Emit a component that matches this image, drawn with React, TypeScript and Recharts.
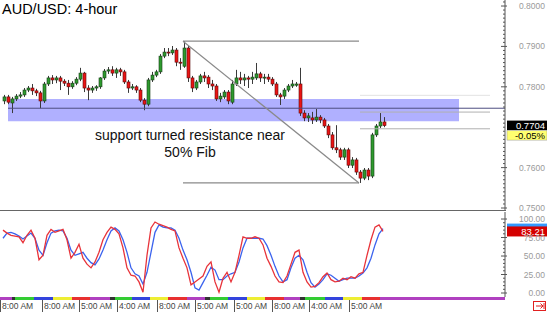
import { ComposedChart, Bar, Line, XAxis, YAxis, ReferenceLine, ReferenceArea } from "recharts";

// AUD/USD 4-hour candles
const opens = [
  0.7765, 0.7775, 0.776, 0.777, 0.7777, 0.778, 0.7792, 0.7797, 0.779, 0.7785, 0.7765, 0.7807,
  0.7822, 0.7817, 0.7822, 0.7814, 0.7809, 0.78, 0.7809, 0.7819, 0.7834, 0.7797, 0.7792, 0.7797,
  0.78, 0.7822, 0.7839, 0.7842, 0.7834, 0.7842, 0.7837, 0.7812, 0.7797, 0.78, 0.7792, 0.7767,
  0.7757, 0.7817, 0.7829, 0.7837, 0.7876, 0.7886, 0.7884, 0.7891, 0.7861, 0.7851, 0.7896, 0.7822,
  0.7797, 0.7812, 0.7827, 0.7824, 0.7807, 0.7802, 0.777, 0.7775, 0.7787, 0.7762, 0.7807, 0.7822,
  0.7817, 0.7822, 0.7819, 0.7822, 0.7832, 0.7822, 0.7824, 0.7819, 0.7807, 0.778, 0.7777, 0.7792,
  0.7802, 0.7804, 0.7807, 0.7735, 0.7723, 0.7723, 0.7718, 0.7725, 0.7718, 0.7703, 0.7681, 0.7649,
  0.7644, 0.7626, 0.7644, 0.7606, 0.7619, 0.7589, 0.7574, 0.7594, 0.7579, 0.7681, 0.7703, 0.7713,
];
const highs = [
  0.778, 0.778, 0.7775, 0.7782, 0.7787, 0.7797, 0.7802, 0.7807, 0.7795, 0.779, 0.7812, 0.7827,
  0.7829, 0.7827, 0.7827, 0.7819, 0.7817, 0.7814, 0.7824, 0.7847, 0.7837, 0.7804, 0.7802, 0.7804,
  0.7824, 0.7844, 0.7849, 0.7851, 0.7847, 0.7847, 0.7842, 0.7817, 0.7807, 0.7804, 0.7797, 0.7772,
  0.7822, 0.7837, 0.7842, 0.7881, 0.7896, 0.7896, 0.7901, 0.7896, 0.7871, 0.7913, 0.7901, 0.7827,
  0.7817, 0.7832, 0.7837, 0.7829, 0.7817, 0.7807, 0.7785, 0.7792, 0.7792, 0.7817, 0.7842, 0.7837,
  0.7832, 0.7827, 0.7837, 0.7859, 0.7837, 0.7832, 0.7832, 0.7824, 0.7812, 0.7785, 0.7797, 0.7807,
  0.7817, 0.7812, 0.7847, 0.7742, 0.7735, 0.7738, 0.7745, 0.773, 0.7723, 0.7708, 0.7688, 0.7705,
  0.7649, 0.7649, 0.7649, 0.7626, 0.7624, 0.7594, 0.7599, 0.7599, 0.7686, 0.7708, 0.7735, 0.7725,
];
const lows = [
  0.7757, 0.7757, 0.7735, 0.7765, 0.7772, 0.7775, 0.7787, 0.778, 0.7777, 0.7747, 0.776, 0.7802,
  0.7807, 0.7809, 0.7792, 0.7802, 0.778, 0.7795, 0.7804, 0.7814, 0.7787, 0.7767, 0.7785, 0.779,
  0.7795, 0.7817, 0.7832, 0.7827, 0.7822, 0.7827, 0.7807, 0.7785, 0.7792, 0.7785, 0.7762, 0.7742,
  0.7752, 0.7812, 0.7824, 0.7832, 0.7871, 0.7876, 0.7879, 0.7851, 0.7842, 0.7847, 0.7812, 0.7787,
  0.7792, 0.7807, 0.7812, 0.7797, 0.7792, 0.7765, 0.7762, 0.777, 0.7757, 0.7757, 0.7802, 0.7807,
  0.7802, 0.7797, 0.7807, 0.7817, 0.7812, 0.7807, 0.7812, 0.7802, 0.7775, 0.7755, 0.777, 0.7787,
  0.7797, 0.78, 0.7728, 0.7715, 0.7713, 0.7708, 0.7713, 0.771, 0.7698, 0.7673, 0.7644, 0.7636,
  0.7619, 0.7619, 0.7599, 0.7599, 0.7582, 0.7562, 0.7569, 0.7569, 0.7574, 0.7676, 0.7698, 0.77,
];
const closes = [
  0.7775, 0.7762, 0.777, 0.7777, 0.778, 0.7792, 0.7797, 0.779, 0.7785, 0.7765, 0.7807, 0.7822,
  0.7817, 0.7822, 0.7814, 0.7809, 0.78, 0.7809, 0.7819, 0.7834, 0.7797, 0.7792, 0.7797, 0.78,
  0.7822, 0.7839, 0.7842, 0.7834, 0.7842, 0.7837, 0.7812, 0.7797, 0.78, 0.7792, 0.7767, 0.7757,
  0.7817, 0.7829, 0.7837, 0.7876, 0.7886, 0.7884, 0.7891, 0.7861, 0.7859, 0.7896, 0.7822, 0.7797,
  0.7812, 0.7827, 0.7822, 0.7807, 0.7802, 0.777, 0.7777, 0.7787, 0.7765, 0.7807, 0.7822, 0.7817,
  0.7822, 0.7819, 0.7824, 0.7832, 0.7822, 0.7824, 0.7819, 0.7807, 0.778, 0.7775, 0.7792, 0.7802,
  0.7807, 0.7807, 0.7735, 0.7723, 0.7728, 0.7718, 0.7725, 0.7718, 0.7703, 0.7681, 0.7649, 0.7644,
  0.7626, 0.7644, 0.7606, 0.7619, 0.7589, 0.7574, 0.7594, 0.7579, 0.7681, 0.7703, 0.7713, 0.7704,
];

// stochastic: %K (red) and %D (blue)
const stochK = [
  85, 81, 78, 77, 76, 68, 78, 85, 74, 45, 51, 78, 86, 82, 84, 86, 72, 47, 55, 66, 47, 39, 34, 42,
  55, 72, 82, 89, 86, 80, 61, 34, 24, 23, 15, 1, 51, 88, 96, 93, 91, 89, 86, 84, 61, 47, 34, 11,
  15, 19, 23, 36, 42, 15, 1, 20, 28, 15, 28, 51, 76, 74, 74, 76, 74, 65, 47, 36, 23, 15, 14, 23,
  39, 55, 58, 28, 15, 8, 9, 14, 22, 27, 18, 15, 16, 20, 18, 22, 20, 26, 28, 51, 72, 89, 92, 83.21,
];
const stochD = [
  74, 81, 82, 80, 77, 73, 77, 81, 74, 58, 51, 68, 81, 84, 85, 84, 74, 58, 51, 53, 55, 47, 41, 38,
  46, 58, 72, 84, 88, 84, 72, 55, 34, 26, 23, 12, 28, 55, 82, 92, 89, 88, 88, 85, 74, 58, 45, 28,
  7, 4, 14, 24, 35, 31, 18, 18, 23, 26, 28, 42, 61, 74, 74, 74, 74, 73, 64, 51, 36, 23, 15, 18,
  34, 47, 51, 45, 28, 14, 8, 12, 18, 26, 24, 20, 16, 18, 20, 20, 20, 23, 27, 34, 47, 65, 80, 87.08,
];

// 0.7700 sits under the last-price box, so it gets no label
const priceLabelTicks = [0.75, 0.76, 0.78, 0.79, 0.8];
const stochLabelTicks = [0, 25, 50, 75, 100];
const timeTickPos = [-0.75, 9.75, 19, 28.5, 38.5, 48, 57.75, 67.25, 76.5, 86.5];
const timeTickLabels = ["8:00 AM", "8:00 AM", "5:00 AM", "4:00 AM", "8:00 AM", "5:00 AM", "5:00 AM", "8:00 AM", "4:00 AM", "5:00 AM"];

// fib drawn from the swing high to the swing low
const fibHigh = { i: 45, price: 0.7913 };
const fibLow = { i: 89, price: 0.7562 };
const zone = { from: 1.25, to: 114, top: 0.777, bottom: 0.7715, mid: 0.7747 };
const dayChange = "-0.05%";

const X_DOMAIN: [number, number] = [-0.75, 125.5];
const AXIS_W = 42;
const FONT = "'Liberation Sans', Arial, sans-serif";

const candles = opens.map((o, i) => ({ i, open: o, high: highs[i], low: lows[i], close: closes[i] }));
const stochRows = stochK.map((k, i) => ({ i, k, d: stochD[i] }));

const priceTicks = Array.from({ length: 52 }, (_, n) => +(0.75 + n * 0.001).toFixed(3));
const stochTicks = Array.from({ length: 21 }, (_, n) => n * 5);

const stripColors = [
  [12, "#b040c0"], [3, "#333"], [19, "#33cc33"], [19, "#3344dd"], [19, "#eeee33"], [18, "#e83030"],
  [20, "#b040c0"], [5, "#333"], [17, "#33cc33"], [18, "#3344dd"], [18, "#eeee33"], [19, "#e83030"],
  [18, "#b040c0"], [5, "#333"], [18, "#33cc33"], [19, "#3344dd"], [18, "#eeee33"], [19, "#e83030"],
  [16, "#b040c0"], [5, "#333"], [20, "#33cc33"], [18, "#3344dd"], [19, "#eeee33"], [18, "#e83030"],
  [125, "#b040c0"],
] as [number, string][];

function Candle(props: any) {
  const { x, y, width, height, payload } = props;
  if (!payload) return null;
  const top = Math.min(y, y + height);
  const bot = Math.max(y, y + height);
  const k = (bot - top) / (payload.high - payload.low || 1);
  const cx = Math.round(x + width / 2) + 0.5;
  const yo = top + (payload.high - payload.open) * k;
  const yc = top + (payload.high - payload.close) * k;
  const up = payload.close >= payload.open;
  const bTop = Math.min(yo, yc);
  const bH = Math.max(1, Math.abs(yo - yc));
  return (
    <g>
      <line x1={cx} x2={cx} y1={top} y2={bot} stroke="#3a3a3a" strokeWidth={1} />
      <rect
        x={cx - 1.5}
        y={bTop}
        width={3}
        height={bH}
        fill={up ? "#2e9a2e" : "#ea1414"}
        stroke={up ? "#173d17" : "#5c0a0a"}
        strokeWidth={0.6}
      />
    </g>
  );
}

function makeAxisTick(labels: number[], digits: number) {
  return (props: any) => {
    const { x, y, payload } = props;
    const v = payload.value;
    const major = labels.some((l) => Math.abs(l - v) < 1e-7);
    return (
      <g>
        <line x1={x - (major ? 4 : 2)} x2={x + (major ? 2 : 0)} y1={y} y2={y} stroke="#555" />
        {major && (
          <text x={x + 40} y={y + 3} textAnchor="end" fontSize={8.5} fill="#9a9a9a" fontFamily={FONT}>
            {v.toFixed(digits)}
          </text>
        )}
      </g>
    );
  };
}

function TimeTick(props: any) {
  const { x, y, payload } = props;
  const idx = timeTickPos.indexOf(payload.value);
  return (
    <g>
      <line x1={x + 0.5} x2={x + 0.5} y1={y + 3} y2={y + 15} stroke="#555" />
      <text x={x + 2} y={y + 12} fontSize={8.5} fill="#444" fontFamily={FONT}>
        {timeTickLabels[idx]}
      </text>
    </g>
  );
}

function valueBox(text: string, fill: string, color: string) {
  return (p: any) => {
    const vb = p.viewBox || {};
    const right = (vb.x || 0) + (vb.width || 0);
    const y = vb.y || 0;
    return (
      <g>
        <rect x={right + 2} y={y - 5} width={40} height={10} fill={fill} />
        {text && (
          <text x={right + 40} y={y + 3.5} textAnchor="end" fontSize={9.5} fill={color} fontFamily={FONT}>
            {text}
          </text>
        )}
      </g>
    );
  };
}

function priceBox(p: any) {
  const vb = p.viewBox || {};
  const right = (vb.x || 0) + (vb.width || 0);
  const y = vb.y || 0;
  return (
    <g>
      <rect x={right + 2} y={y - 5} width={40} height={9.5} fill="#000" />
      <text x={right + 40} y={y + 3.5} textAnchor="end" fontSize={9.5} fill="#fff" fontFamily={FONT}>
        {closes[closes.length - 1].toFixed(4)}
      </text>
      <rect x={right + 2} y={y + 5} width={40} height={9.5} fill="#ffff70" stroke="#999" strokeWidth={0.5} />
      <text x={right + 40} y={y + 13.5} textAnchor="end" fontSize={9.5} fill="#000" fontFamily={FONT}>
        {dayChange}
      </text>
    </g>
  );
}

export default function App() {
  const lastK = stochK[stochK.length - 1];
  const lastD = stochD[stochD.length - 1];
  return (
    <div style={{ position: "absolute", left: 0, top: 0, width: 547, height: 312, background: "#fff", overflow: "hidden", fontFamily: FONT }}>
      <div style={{ position: "absolute", left: 0, top: 0 }}>
        <ComposedChart width={547} height={216} data={candles} margin={{ top: 0, right: 0, bottom: 5, left: 0 }}>
          <XAxis type="number" dataKey="i" domain={X_DOMAIN} hide />
          <YAxis
            orientation="right"
            width={AXIS_W}
            domain={[0.74926, 0.80149]}
            ticks={priceTicks}
            interval={0}
            tickSize={0}
            tickMargin={0}
            tickLine={false}
            axisLine={{ stroke: "#555" }}
            tick={makeAxisTick(priceLabelTicks, 4)}
          />
          <Bar
            dataKey={(d: any) => [d.low, d.high]}
            barSize={3}
            shape={<Candle />}
            isAnimationActive={false}
          />
          <ReferenceArea
            x1={zone.from}
            x2={zone.to}
            y1={zone.bottom}
            y2={zone.top}
            fill="#5a5aff"
            fillOpacity={0.48}
            stroke="none"
          />
          <ReferenceLine
            segment={[{ x: zone.from, y: zone.mid }, { x: X_DOMAIN[1], y: zone.mid }]}
            stroke="#4d4d80"
            strokeWidth={1}
          />
          <ReferenceLine
            segment={[{ x: fibHigh.i, y: fibHigh.price }, { x: fibLow.i, y: fibHigh.price }]}
            stroke="#8a8a8a"
            strokeWidth={1.2}
          />
          <ReferenceLine
            segment={[{ x: fibHigh.i, y: fibLow.price }, { x: fibLow.i, y: fibLow.price }]}
            stroke="#8a8a8a"
            strokeWidth={1.2}
          />
          <ReferenceLine
            segment={[{ x: fibHigh.i, y: fibHigh.price }, { x: fibLow.i, y: fibLow.price }]}
            stroke="#8a8a8a"
            strokeWidth={1.2}
          />
          {[0.618, 0.5, 0.382].map((lvl) => {
            const p = fibLow.price + (fibHigh.price - fibLow.price) * lvl;
            return (
              <ReferenceLine
                key={lvl}
                segment={[{ x: fibLow.i + 0.25, y: p }, { x: 121.75, y: p }]}
                stroke={lvl === 0.618 ? "#e2e2e2" : "#b0b0b0"}
                strokeWidth={1}
              />
            );
          })}
          <ReferenceLine y={closes[closes.length - 1]} stroke="none" label={priceBox} />
        </ComposedChart>
      </div>
      <div style={{ position: "absolute", left: 0, top: 210, width: 506, height: 1, background: "#666" }} />
      <div style={{ position: "absolute", left: 0, top: 212 }}>
        <ComposedChart width={547} height={100} data={stochRows} margin={{ top: 0, right: 0, bottom: 0, left: 0 }}>
          <XAxis
            type="number"
            dataKey="i"
            domain={X_DOMAIN}
            ticks={timeTickPos}
            interval={0}
            height={15}
            tickSize={0}
            tickMargin={0}
            tickLine={false}
            axisLine={false}
            tick={<TimeTick />}
          />
          <YAxis
            orientation="right"
            width={AXIS_W}
            domain={[-5.4, 109.5]}
            ticks={stochTicks}
            interval={0}
            tickSize={0}
            tickMargin={0}
            tickLine={false}
            axisLine={{ stroke: "#555" }}
            tick={makeAxisTick(stochLabelTicks, 2)}
          />
          <Line dataKey="d" stroke="#3b63ee" strokeWidth={1.3} dot={false} isAnimationActive={false} />
          <Line dataKey="k" stroke="#e8333a" strokeWidth={1.3} dot={false} isAnimationActive={false} />
          <ReferenceLine y={lastD} stroke="none" label={valueBox("", "#3399ff", "#fff")} />
          <ReferenceLine y={lastK} stroke="none" label={valueBox(lastK.toFixed(2), "#d40000", "#fff")} />
        </ComposedChart>
      </div>
      <div style={{ position: "absolute", left: 0, top: 297, height: 3, display: "flex" }}>
        {stripColors.map(([w, c], n) => (
          <div key={n} style={{ width: w, height: 3, background: c }} />
        ))}
      </div>
      <svg width={547} height={312} style={{ position: "absolute", left: 0, top: 0, pointerEvents: "none" }}>
        <text x={2} y={13.5} fontSize={14.5} fill="#000" fontFamily={FONT}>AUD/USD: 4-hour</text>
        <text x={190} y={140} fontSize={14} fill="#111" textAnchor="middle" fontFamily={FONT}>
          support turned resistance near
        </text>
        <text x={190} y={157} fontSize={14} fill="#111" textAnchor="middle" fontFamily={FONT}>
          50% Fib
        </text>
        <rect x={533.5} y={301.5} width={12} height={9} fill="#fff" stroke="#e02020" strokeWidth={1} />
        <path d="M536 306 H543 M540.5 303.5 L543 306 L540.5 308.5 M544 303 V309" stroke="#e02020" strokeWidth={1} fill="none" />
      </svg>
    </div>
  );
}
